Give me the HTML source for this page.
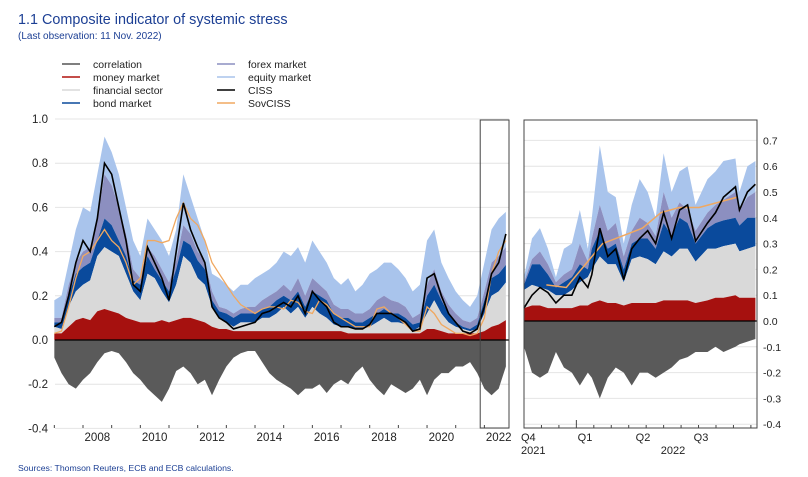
<!DOCTYPE html>
<html><head><meta charset="utf-8"><style>
body{margin:0;background:#fff;font-family:"Liberation Sans",sans-serif}
svg{display:block}
</style></head><body>
<svg id="c" width="808" height="477" viewBox="0 0 808 477" xmlns="http://www.w3.org/2000/svg" font-family="Liberation Sans, sans-serif">
<text x="18" y="24" font-size="14.4" fill="#1c3f94">1.1 Composite indicator of systemic stress</text>
<text x="18" y="39" font-size="10" fill="#1c3f94">(Last observation: 11 Nov. 2022)</text>
<g font-size="10.5" fill="#222">
<g><line x1="62" y1="64" x2="80" y2="64" stroke="#555" stroke-width="1.5"/><text x="93" y="68">correlation</text></g>
<g><line x1="62" y1="77" x2="80" y2="77" stroke="#b0120f" stroke-width="1.5"/><text x="93" y="81">money market</text></g>
<g><line x1="62" y1="90" x2="80" y2="90" stroke="#d9d9d9" stroke-width="1.5"/><text x="93" y="94">financial sector</text></g>
<g><line x1="62" y1="103" x2="80" y2="103" stroke="#0a4a9c" stroke-width="1.5"/><text x="93" y="107">bond market</text></g>
<g><line x1="217" y1="64" x2="235" y2="64" stroke="#8c8fc0" stroke-width="1.5"/><text x="248" y="68">forex market</text></g>
<g><line x1="217" y1="77" x2="235" y2="77" stroke="#a9c4ec" stroke-width="1.5"/><text x="248" y="81">equity market</text></g>
<g><line x1="217" y1="90" x2="235" y2="90" stroke="#000" stroke-width="1.5"/><text x="248" y="94">CISS</text></g>
<g><line x1="217" y1="103" x2="235" y2="103" stroke="#f0a860" stroke-width="1.5"/><text x="248" y="107">SovCISS</text></g>
</g>
<text x="18" y="471" font-size="8.7" fill="#1c3f94">Sources: Thomson Reuters, ECB and ECB calculations.</text>
</svg>
<script>
// Left panel: quarterly, starting 2007.0
const leftStart = 2007.0;
const topMoney =     [.03,.03,.06,.09,.10,.09,.13,.14,.13,.12,.10,.09,.08,.08,.08,.09,.08,.09,.10,.10,.09,.08,.06,.05,.05,.04,.04,.04,.04,.04,.04,.04,.04,.04,.04,.04,.04,.04,.04,.04,.04,.03,.03,.03,.03,.03,.03,.03,.03,.03,.03,.03,.05,.05,.04,.03,.03,.03,.03,.03,.04,.06,.07,.09];
const topFinancial = [.06,.05,.15,.22,.25,.27,.38,.42,.40,.38,.30,.22,.18,.30,.28,.22,.17,.25,.38,.35,.28,.25,.15,.10,.08,.06,.08,.08,.08,.10,.10,.12,.15,.12,.15,.10,.15,.12,.10,.07,.06,.06,.05,.05,.06,.08,.10,.08,.08,.07,.04,.06,.12,.18,.12,.08,.06,.05,.04,.05,.12,.20,.22,.26];
const topBond =      [.08,.08,.20,.30,.33,.35,.45,.55,.52,.45,.38,.27,.25,.38,.32,.27,.22,.32,.45,.43,.36,.32,.18,.13,.12,.10,.12,.12,.12,.14,.15,.18,.20,.18,.22,.15,.22,.20,.18,.12,.10,.10,.08,.08,.10,.12,.14,.12,.12,.10,.07,.08,.20,.25,.18,.12,.08,.06,.05,.07,.18,.28,.30,.34];
const topForex =     [.10,.10,.25,.35,.40,.42,.55,.75,.70,.60,.48,.32,.28,.42,.38,.32,.26,.36,.52,.48,.40,.36,.22,.15,.14,.12,.14,.15,.15,.18,.20,.22,.25,.22,.28,.20,.28,.25,.22,.16,.14,.14,.12,.12,.14,.18,.20,.18,.17,.15,.10,.12,.25,.32,.22,.16,.12,.09,.08,.10,.22,.35,.38,.42];
const topEquity =    [.18,.20,.35,.50,.60,.58,.75,.92,.85,.75,.60,.45,.38,.55,.50,.45,.38,.50,.75,.65,.55,.45,.30,.28,.25,.22,.25,.25,.28,.30,.32,.35,.40,.38,.42,.35,.45,.40,.35,.28,.25,.28,.22,.25,.30,.32,.35,.35,.32,.28,.22,.25,.45,.50,.35,.28,.22,.18,.15,.20,.35,.50,.55,.58];
const correlation =  [-.08,-.15,-.20,-.22,-.18,-.15,-.10,-.06,-.05,-.06,-.10,-.15,-.18,-.22,-.25,-.28,-.22,-.14,-.12,-.15,-.20,-.18,-.25,-.18,-.12,-.08,-.06,-.05,-.05,-.10,-.15,-.18,-.20,-.22,-.25,-.22,-.22,-.20,-.24,-.20,-.18,-.20,-.15,-.12,-.18,-.22,-.25,-.20,-.22,-.24,-.22,-.18,-.25,-.18,-.15,-.15,-.12,-.12,-.10,-.15,-.22,-.25,-.22,-.12];
const ciss =         [.06,.08,.20,.35,.45,.40,.55,.80,.75,.60,.45,.25,.22,.42,.35,.28,.18,.40,.62,.50,.42,.35,.15,.10,.08,.05,.06,.07,.08,.12,.13,.15,.17,.15,.20,.12,.22,.18,.15,.08,.06,.06,.05,.05,.07,.12,.12,.12,.10,.08,.04,.05,.28,.30,.20,.12,.08,.04,.03,.05,.15,.30,.35,.48];
const sovciss =      [.03,.04,.15,.28,.38,.40,.45,.50,.45,.42,.35,.25,.28,.45,.45,.44,.45,.55,.62,.55,.52,.45,.35,.30,.25,.20,.16,.14,.12,.14,.15,.15,.14,.18,.17,.13,.12,.18,.16,.12,.10,.08,.06,.06,.06,.14,.15,.12,.10,.07,.04,.04,.15,.12,.07,.05,.03,.03,.02,.03,.10,.30,.40,.45];
const leftYTicks = [1.0,0.8,0.6,0.4,0.2,0.0,-0.2,-0.4];
const leftYearLabels = [2008,2010,2012,2014,2016,2018,2020,2022];

// Right panel: weeks since 1 Oct 2021
const rWeeks =       [0,2,4,6,8,10,12,14,16,17,19,21,23,25,27,29,31,33,35,37,39,41,43,46,48,50,53,54,56,58];
const rMoney =       [.05,.06,.06,.05,.05,.05,.05,.06,.06,.07,.08,.07,.07,.06,.07,.07,.07,.07,.08,.08,.08,.08,.07,.08,.09,.09,.10,.09,.09,.09];
const rFinancial =   [.12,.14,.13,.12,.10,.10,.12,.15,.17,.20,.25,.22,.22,.15,.24,.25,.24,.22,.27,.25,.28,.28,.23,.28,.28,.29,.30,.27,.28,.29];
const rBond =        [.14,.22,.22,.18,.13,.15,.17,.22,.20,.28,.35,.28,.30,.20,.30,.32,.32,.28,.38,.33,.40,.38,.30,.36,.38,.39,.40,.37,.40,.40];
const rForex =       [.15,.24,.27,.22,.15,.18,.20,.30,.23,.32,.45,.35,.38,.25,.35,.40,.38,.33,.50,.40,.46,.43,.35,.42,.45,.47,.50,.43,.48,.50];
const rEquity =      [.17,.32,.36,.28,.17,.28,.30,.43,.28,.40,.68,.50,.48,.30,.45,.55,.50,.40,.65,.50,.58,.60,.45,.55,.58,.62,.63,.50,.60,.62];
const rCorrelation = [-.10,-.20,-.22,-.20,-.12,-.18,-.20,-.25,-.20,-.22,-.30,-.22,-.18,-.20,-.25,-.20,-.20,-.22,-.20,-.18,-.15,-.14,-.12,-.12,-.10,-.12,-.10,-.09,-.08,-.07];
const rCiss =        [.05,.10,.13,.11,.07,.10,.10,.17,.13,.18,.36,.25,.28,.16,.28,.32,.35,.30,.42,.32,.43,.45,.31,.38,.42,.48,.52,.43,.50,.53];
const sovWeeks =     [5.6,10.6,19.7,29.7,34.3,38.9,43.9,53.5];
const sovValues =    [.14,.13,.30,.36,.42,.44,.44,.48];
const rightYTicks = [0.7,0.6,0.5,0.4,0.3,0.2,0.1,0.0,-0.1,-0.2,-0.3,-0.4];
const rightQLabels = ["Q1","Q2","Q3"];

const NS="http://www.w3.org/2000/svg";
const svg=document.getElementById('c');
function mk(tag,attrs,parent){const e=document.createElementNS(NS,tag);for(const k in attrs)e.setAttribute(k,attrs[k]);(parent||svg).appendChild(e);return e;}

// scales
const lx=t=>83+(t-2008)*28.67;
const ly=v=>340-v*221;
const rx=w=>524+w*(233/58.4);
const ry=v=>321-v*258;

// ---- Left panel ----
const gl=mk('g',{});


leftYTicks.forEach(v=>{
  const g=mk('line',{x1:55,x2:509,y1:ly(v),y2:ly(v),stroke:'#e4e4e4','stroke-width':1},gl);
  
  
  const t=mk('text',{x:48,y:ly(v)+4,'font-size':11.5,'text-anchor':'end',fill:'#222'},gl);
  t.textContent=v.toFixed(1);
  
  
});
const lt=i=>leftStart+i*0.25;
function areaL(tops,bots,color,name){
  let p=tops.map((v,i)=>lx(lt(i))+','+ly(v));
  for(let i=bots.length-1;i>=0;i--)p.push(lx(lt(i))+','+ly(bots[i]));
  const e=mk('polygon',{points:p.join(' '),fill:color},gl);
  
  
}
const zerosL=topMoney.map(()=>0);
areaL(correlation,zerosL,'#5a5a5a','left-correlation-area');
areaL(topEquity,topForex,'#a9c4ec','left-equity-area');
areaL(topForex,topBond,'#8c8fc0','left-forex-area');
areaL(topBond,topFinancial,'#0a4a9c','left-bond-area');
areaL(topFinancial,topMoney,'#d9d9d9','left-financial-area');
areaL(topMoney,zerosL,'#a6110f','left-money-area');
function lineL(vals,color,w,name){
  const e=mk('polyline',{points:vals.map((v,i)=>lx(lt(i))+','+ly(v)).join(' '),fill:'none',stroke:color,'stroke-width':w},gl);
  
  
}
lineL(sovciss,'#f0a860',1.3,'left-sovciss-line');
lineL(ciss,'#000',1.6,'left-ciss-line');
const z1=mk('line',{x1:55,x2:509,y1:ly(0),y2:ly(0),stroke:'#000','stroke-width':1.2},gl);


for(let y=2007;y<=2022;y++){
  const tk=mk('line',{x1:lx(y),x2:lx(y),y1:428,y2:425,stroke:'#444'},gl);
  
  
}
leftYearLabels.forEach(y=>{
  const t=mk('text',{x:lx(y+0.5),y:441,'font-size':11.5,'text-anchor':'middle',fill:'#222'},gl);
  t.textContent=y;
  
  
});
const box=mk('rect',{x:lx(2021.75)+3,y:120,width:509-lx(2021.75)-3,height:308,fill:'none',stroke:'#444','stroke-width':1},gl);



// ---- Right panel ----
const gr=mk('g',{});


rightYTicks.forEach(v=>{
  const g=mk('line',{x1:524,x2:757,y1:ry(v),y2:ry(v),stroke:'#e4e4e4'},gr);
  
  
  const t=mk('text',{x:763,y:ry(v)+4,'font-size':10.5,fill:'#222'},gr);
  t.textContent=v.toFixed(1);
  
  
});
function areaR(tops,bots,color,name){
  let p=tops.map((v,i)=>rx(rWeeks[i])+','+ry(v));
  for(let i=bots.length-1;i>=0;i--)p.push(rx(rWeeks[i])+','+ry(bots[i]));
  const e=mk('polygon',{points:p.join(' '),fill:color},gr);
  
  
}
const zerosR=rMoney.map(()=>0);
areaR(rCorrelation,zerosR,'#5a5a5a','right-correlation-area');
areaR(rEquity,rForex,'#a9c4ec','right-equity-area');
areaR(rForex,rBond,'#8c8fc0','right-forex-area');
areaR(rBond,rFinancial,'#0a4a9c','right-bond-area');
areaR(rFinancial,rMoney,'#d9d9d9','right-financial-area');
areaR(rMoney,zerosR,'#a6110f','right-money-area');
const sl=mk('polyline',{points:sovWeeks.map((w,i)=>rx(w)+','+ry(sovValues[i])).join(' '),fill:'none',stroke:'#f0a860','stroke-width':1.5},gr);


const cl=mk('polyline',{points:rWeeks.map((w,i)=>rx(w)+','+ry(rCiss[i])).join(' '),fill:'none',stroke:'#000','stroke-width':1.6},gr);


const z2=mk('line',{x1:524,x2:757,y1:ry(0),y2:ry(0),stroke:'#000','stroke-width':1.2},gr);


const fr=mk('rect',{x:524,y:120,width:233,height:308,fill:'none',stroke:'#444'},gr);


for(let m=1;m<=13;m++){
  const w=m*58.4/13.35;
  const tk=mk('line',{x1:rx(w),x2:rx(w),y1:428,y2:(m===3?420:425),stroke:'#444'},gr);
  
  
}
const q4=mk('text',{x:521,y:441,'font-size':11,fill:'#222'},gr);q4.textContent='Q4';


rightQLabels.forEach((q,i)=>{
  const t=mk('text',{x:585+i*58,y:441,'font-size':11,'text-anchor':'middle',fill:'#222'},gr);
  t.textContent=q;
  
  
});
const y1=mk('text',{x:521,y:454,'font-size':11,fill:'#222'},gr);y1.textContent='2021';


const y2=mk('text',{x:673,y:454,'font-size':11,'text-anchor':'middle',fill:'#222'},gr);y2.textContent='2022';


</script>
</body></html>
